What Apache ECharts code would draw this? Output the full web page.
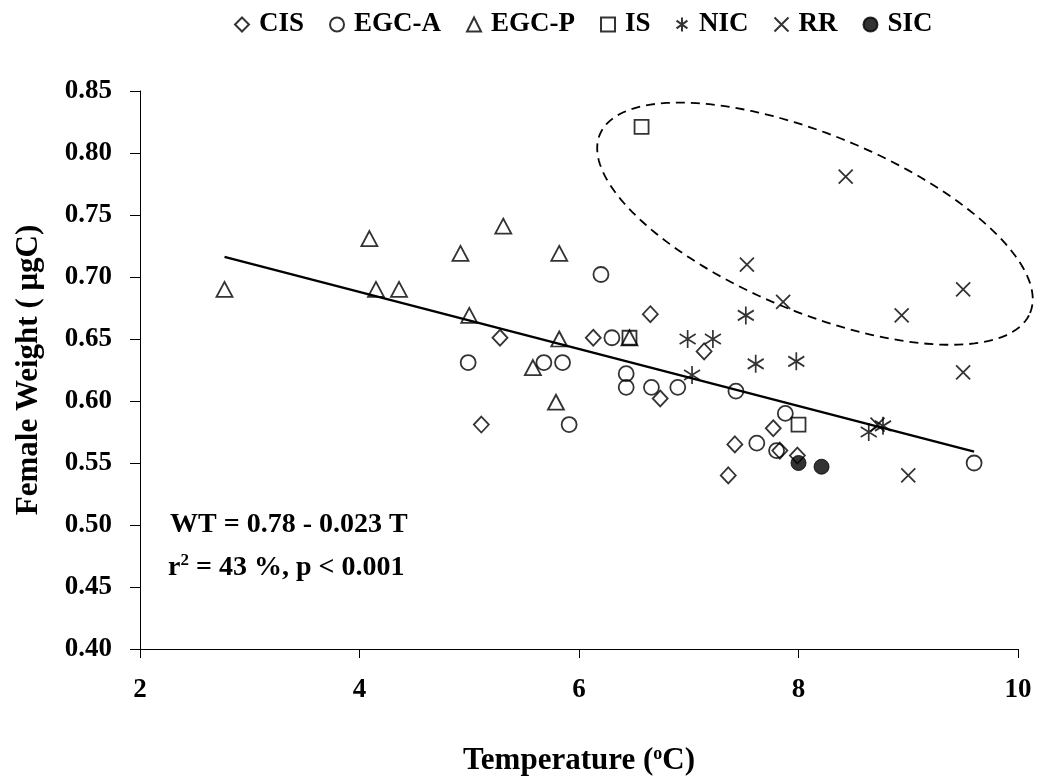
<!DOCTYPE html>
<html>
<head>
<meta charset="utf-8">
<script src="https://cdn.jsdelivr.net/npm/echarts@6/dist/echarts.min.js"></script>
<style>
  html, body { margin: 0; padding: 0; background: #fff; }
  #chart { width: 1037px; height: 783px; }
</style>
</head>
<body>
<div id="chart"></div>
<script>
// Female weight (µgC) against temperature (°C), by region
const regions = ['CIS', 'EGC-A', 'EGC-P', 'IS', 'NIC', 'RR', 'SIC'];

const CIS = [[6.65, 0.670], [5.28, 0.651], [6.13, 0.651], [7.14, 0.640], [6.74, 0.602],
             [5.11, 0.581], [7.77, 0.578], [7.42, 0.565], [7.83, 0.560], [7.99, 0.556], [7.36, 0.540]];
const EGC_A = [[6.20, 0.702], [6.30, 0.651], [4.99, 0.631], [5.68, 0.631], [5.85, 0.631],
               [6.43, 0.622], [6.43, 0.611], [6.66, 0.611], [6.90, 0.611], [5.91, 0.581],
               [7.43, 0.608], [7.88, 0.590], [7.62, 0.566], [7.80, 0.560], [9.60, 0.550]];
const EGC_P = [[2.77, 0.690], [4.09, 0.731], [4.15, 0.690], [4.36, 0.690], [4.92, 0.719],
               [5.31, 0.741], [5.82, 0.719], [5.00, 0.669], [5.82, 0.650], [5.58, 0.627],
               [5.79, 0.599], [6.46, 0.651]];
const IS = [[6.57, 0.821], [6.46, 0.651], [8.00, 0.581]];
const NIC = [[6.99, 0.650], [7.22, 0.650], [7.03, 0.621], [7.52, 0.669], [7.61, 0.630],
             [7.98, 0.632], [8.64, 0.575], [8.77, 0.580]];
const RR = [[8.43, 0.781], [7.53, 0.710], [7.86, 0.680], [9.50, 0.690], [8.94, 0.669],
            [9.50, 0.623], [9.00, 0.540], [8.72, 0.581]];
const SIC = [[8.00, 0.550], [8.21, 0.547]];

// Regression WT = 0.78 - 0.023 T over the observed temperature range
const FIT_INTERCEPT = 0.78;
const FIT_SLOPE = -0.023;
const FIT_RANGE = [2.77, 9.60];

// Axis ticks
const X_TICKS = [2, 4, 6, 8, 10];
const Y_TICKS = [0.40, 0.45, 0.50, 0.55, 0.60, 0.65, 0.70, 0.75, 0.80, 0.85];

// Dashed ellipse around the high-weight group (data units: centre and two conjugate half-axes)
const ELLIPSE_CENTER = [8.15, 0.743];
const ELLIPSE_U = [1.96, -0.072];
const ELLIPSE_V = [0.31, 0.066];

const FONT = '"Liberation Serif", "Times New Roman", serif';

const fitLine = FIT_RANGE.map(t => [t, FIT_INTERCEPT + FIT_SLOPE * t]);

const hollow = { color: 'rgba(0,0,0,0)', borderColor: '#000', borderWidth: 1.8 };
const ASTERISK = 'path://M8,0L8,18M1,4L15,14M15,4L1,14';
const CROSS = 'path://M0,0L12,12M12,0L0,12';

function scatter(name, data, symbol, size, style) {
  return {
    name, type: 'scatter', data, symbol, symbolSize: size,
    itemStyle: style || hollow,
    emphasis: { disabled: true },
    z: 3
  };
}

const chart = echarts.init(document.getElementById('chart'), null, { renderer: 'canvas' });

chart.setOption({
  animation: false,
  backgroundColor: '#fff',
  textStyle: { fontFamily: FONT },
  legend: {
    data: regions,
    left: 229,
    top: 6,
    itemWidth: 14,
    itemHeight: 14,
    itemGap: 25,
    textStyle: { fontFamily: FONT, fontWeight: 'bold', fontSize: 27, color: '#000', padding: [0, 0, 0, 5] }
  },
  grid: { left: 140, right: 19, top: 91, bottom: 134 },
  xAxis: {
    type: 'value',
    min: X_TICKS[0], max: X_TICKS[X_TICKS.length - 1], interval: 2,
    splitLine: { show: false },
    axisLine: { lineStyle: { color: '#000', width: 1 } },
    axisTick: { inside: false, length: 9, lineStyle: { color: '#000' } },
    axisLabel: { margin: 28, color: '#000', fontFamily: FONT, fontWeight: 'bold', fontSize: 27 },
    name: '{t|Temperature (}{s|o}{t|C)}',
    nameLocation: 'middle',
    nameGap: 96,
    nameTextStyle: {
      rich: {
        t: { fontFamily: FONT, fontWeight: 'bold', fontSize: 31, color: '#000' },
        s: { fontFamily: FONT, fontWeight: 'bold', fontSize: 18, color: '#000', verticalAlign: 'top', padding: [0, 0, 14, 0] }
      }
    }
  },
  yAxis: {
    type: 'value',
    min: Y_TICKS[0], max: Y_TICKS[Y_TICKS.length - 1], interval: 0.05,
    splitLine: { show: false },
    axisLine: { show: true, lineStyle: { color: '#000', width: 1 } },
    axisTick: { show: true, inside: false, length: 10, lineStyle: { color: '#000' } },
    axisLabel: {
      margin: 28, color: '#000', fontFamily: FONT, fontWeight: 'bold', fontSize: 27,
      formatter: v => v.toFixed(2)
    },
    name: 'Female Weight ( \u03bcgC)',
    nameLocation: 'middle',
    nameGap: 96,
    nameRotate: 90,
    nameTextStyle: { fontFamily: FONT, fontWeight: 'bold', fontSize: 31, color: '#000' }
  },
  graphic: [
    {
      type: 'text', left: 170, top: 511,
      style: { text: 'WT = 0.78 - 0.023 T', font: 'bold 28px ' + FONT, fill: '#000' }
    },
    {
      type: 'text', left: 168, top: 552,
      style: {
        text: '{a|r}{s|2}{a| = 43 %, p < 0.001}',
        rich: {
          a: { font: 'bold 28px ' + FONT, fill: '#000' },
          s: { font: 'bold 17px ' + FONT, fill: '#000', verticalAlign: 'top', padding: [0, 0, 14, 0] }
        }
      }
    }
  ],
  series: [
    {
      name: 'fit', type: 'line', data: fitLine, symbol: 'none',
      lineStyle: { color: '#000', width: 2.4 }, silent: true, z: 2
    },
    {
      name: 'group', type: 'custom', silent: true, clip: false, z: 1,
      data: [ELLIPSE_CENTER],
      renderItem: function (params, api) {
        const pts = [];
        const n = 180;
        for (let i = 0; i < n; i++) {
          const a = (i / n) * Math.PI * 2;
          const x = ELLIPSE_CENTER[0] + ELLIPSE_U[0] * Math.cos(a) + ELLIPSE_V[0] * Math.sin(a);
          const y = ELLIPSE_CENTER[1] + ELLIPSE_U[1] * Math.cos(a) + ELLIPSE_V[1] * Math.sin(a);
          pts.push(api.coord([x, y]));
        }
        return {
          type: 'polygon',
          shape: { points: pts },
          style: { fill: 'none', stroke: '#000', lineWidth: 1.8, lineDash: [9, 6] }
        };
      }
    },
    scatter('CIS', CIS, 'diamond', [15, 16]),
    scatter('EGC-A', EGC_A, 'circle', 15),
    scatter('EGC-P', EGC_P, 'triangle', [16, 15]),
    scatter('IS', IS, 'rect', 14),
    scatter('NIC', NIC, ASTERISK, [16, 18]),
    scatter('RR', RR, CROSS, [14, 14]),
    scatter('SIC', SIC, 'circle', 15, { color: '#000', borderColor: '#000', borderWidth: 1 })
  ]
});
</script>
</body>
</html>
